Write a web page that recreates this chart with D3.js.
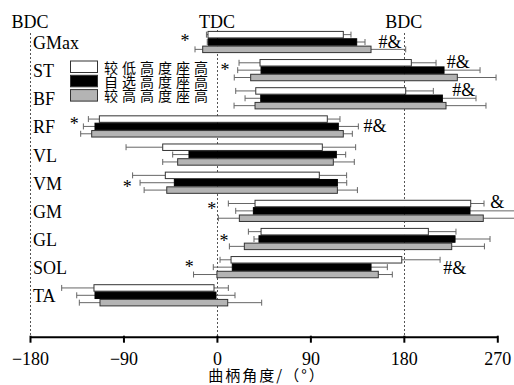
<!DOCTYPE html>
<html><head><meta charset="utf-8">
<script src="https://cdn.jsdelivr.net/npm/d3@7"></script>
<style>
html,body{margin:0;padding:0;background:#fff;overflow:hidden;}
svg{display:block;}
.serif{font-family:"Liberation Serif","Times New Roman","DejaVu Serif",serif;}
.cjk{font-family:"Noto Sans CJK SC","Noto Sans CJK JP",sans-serif;}
</style></head>
<body>
<svg id="chart" width="514" height="385"></svg>
<script>
const muscles = ["GMax","ST","BF","RF","VL","VM","GM","GL","SOL","TA"];
const seriesNames = ["较低高度座高","自选高度座高","较高高度座高"];
const xTicks = [-180,-90,0,90,180,270];

const lowStart    = [-8.6, 41.5, 37.4, -113.2, -52.2, -49.7, 36.7, 42.5, 13.6, -118.4];
const lowStartErr = [1.5, 20.2, 19.3, 10.6, 35.3, 31.5, 25.7, 12.2, 10.6, 31.1];
const lowEnd      = [121.7, 187.2, 181.8, 106.3, 101.5, 98.6, 244.4, 203.6, 178, -2.8];
const lowEndErr   = [7.4, 23.8, 26.6, 12.2, 32.1, 26.3, 12.8, 26.6, 36.9, 13.8];

const selfStart    = [-8.3, 42.5, 42.2, -117.4, -26.9, -41, 35.1, 40.5, 14.8, -117.4];
const selfStartErr = [1, 22.5, 15.1, 11.2, 15.7, 33, 17, 4.8, 18.3, 17.6];
const selfEnd      = [134.6, 218.7, 217.1, 116.9, 115, 116, 243.7, 229.3, 148.4, -0.9];
const selfEndErr   = [8, 34.7, 32.4, 19.3, 9, 9, 45, 33.7, 15.7, 18.3];

const highStart    = [-13.7, 32.5, 36.7, -120.6, -37.8, -48.3, 21.6, 26.4, 0, -112.6];
const highStartErr = [7.4, 15.8, 20.2, 10.6, 14.4, 21.8, 20.2, 14.4, 22.5, 19.9];
const highEnd      = [148.4, 231.5, 220.6, 121.7, 112.1, 116, 256.5, 226.1, 155.4, 10.4];
const highEndErr   = [33.4, 37.3, 38.5, 8.7, 20.2, 19.3, 33, 31.5, 13.5, 32.7];

// significance marks: muscle, symbol, angle anchor (deg), vertical offset within group (px)
const sigMuscle = ["GMax","GMax","ST","ST","BF","RF","RF","VM","GM","GM","GL","SOL","SOL"];
const sigText   = ["*","#&","*","#&","#&","*","#&","*","*","&","*","*","#&"];
const sigAngle  = [-30.7,166.7,7.8,232.5,237.7,-137.3,152.3,-86.3,-5,270,6.8,-26.6,229];
const sigDy     = [-4,-0.3,-3.6,-8.6,-8.5,-5,0,1,-4.8,-8.8,-1.4,-3,1.3];

const refAngles = [-180, 0, 180];
const refLabels = ["BDC","TDC","BDC"];

const series = [
  {name: seriesNames[0], start: lowStart, sErr: lowStartErr, end: lowEnd, eErr: lowEndErr, fill:"#ffffff", stroke:"#333"},
  {name: seriesNames[1], start: selfStart, sErr: selfStartErr, end: selfEnd, eErr: selfEndErr, fill:"#000000", stroke:"#000"},
  {name: seriesNames[2], start: highStart, sErr: highStartErr, end: highEnd, eErr: highEndErr, fill:"#b4b4b4", stroke:"#333"}
];

const svg = d3.select("#chart");

const x = d3.scaleLinear().domain([-180,270]).range([30,497.3]);
const y = d3.scalePoint().domain(muscles).range([42,295.3]);
const yi = d3.scaleBand().domain(seriesNames).range([-10.6,10.6]).paddingInner(0.12);
const axisY = 336.7;

// reference dashed lines
svg.append("g").selectAll("line").data(refAngles).join("line")
  .attr("x1", d=>Math.round(x(d))+0.5).attr("x2", d=>Math.round(x(d))+0.5)
  .attr("y1", (d,i)=> i===1 ? 30 : 33).attr("y2", axisY)
  .attr("stroke","#555").attr("stroke-width",1).attr("stroke-dasharray","2,2");

svg.append("g").selectAll("text").data(refAngles).join("text")
  .attr("class","serif")
  .attr("x", d=>x(d)).attr("y", 28)
  .attr("text-anchor","middle")
  .style("font-size","18px").attr("fill","#000")
  .text((d,i)=>refLabels[i]);

// muscle labels
svg.append("g").selectAll("text").data(muscles).join("text")
  .attr("class","serif")
  .attr("x", 33).attr("y", d=>y(d)+7)
  .style("font-size","18px").attr("fill","#000")
  .text(d=>d);

// bars + error bars
const capH = 6;
series.forEach(s => {
  const g = svg.append("g");
  const rows = muscles.map((m,i)=>({m, st:s.start[i], se:s.sErr[i], en:s.end[i], ee:s.eErr[i]}));
  const cy = d => y(d.m) + yi(s.name) + yi.bandwidth()/2;
  g.selectAll("line.wl").data(rows).join("line").attr("class","wl")
    .attr("x1", d=>x(d.st - d.se)).attr("x2", d=>x(d.st))
    .attr("y1", cy).attr("y2", cy).attr("stroke","#666").attr("stroke-width",1);
  g.selectAll("line.cl").data(rows).join("line").attr("class","cl")
    .attr("x1", d=>x(d.st - d.se)).attr("x2", d=>x(d.st - d.se))
    .attr("y1", d=>cy(d)-capH/2).attr("y2", d=>cy(d)+capH/2).attr("stroke","#666").attr("stroke-width",1);
  g.selectAll("line.wr").data(rows).join("line").attr("class","wr")
    .attr("x1", d=>x(d.en)).attr("x2", d=>x(d.en + d.ee))
    .attr("y1", cy).attr("y2", cy).attr("stroke","#666").attr("stroke-width",1);
  g.selectAll("line.cr").data(rows).join("line").attr("class","cr")
    .attr("x1", d=>x(d.en + d.ee)).attr("x2", d=>x(d.en + d.ee))
    .attr("y1", d=>cy(d)-capH/2).attr("y2", d=>cy(d)+capH/2).attr("stroke","#666").attr("stroke-width",1);
  g.selectAll("rect").data(rows).join("rect")
    .attr("x", d=>x(d.st)).attr("width", d=>x(d.en)-x(d.st))
    .attr("y", d=>y(d.m)+yi(s.name)).attr("height", yi.bandwidth())
    .attr("fill", s.fill).attr("stroke", s.stroke).attr("stroke-width",1);
});

// significance marks
svg.append("g").selectAll("text").data(sigText).join("text")
  .attr("class","serif")
  .attr("x", (d,i)=>x(sigAngle[i]))
  .attr("y", (d,i)=>y(sigMuscle[i]) + sigDy[i] + (d==="*" ? 9 : 6))
  .attr("text-anchor","middle")
  .style("font-size","18px").attr("fill","#000")
  .text(d=>d);

// legend
const lg = svg.append("g");
series.forEach((s,i)=>{
  lg.append("rect").attr("x",70.5).attr("y",61+i*14.3).attr("width",27).attr("height",11.5)
    .attr("fill", s.fill).attr("stroke","#333").attr("stroke-width",1);
  lg.append("text").attr("class","cjk").attr("x",104).attr("y",72.5+i*14.3)
    .style("font-size","14px").style("letter-spacing","4px").attr("fill","#000")
    .text(s.name);
});

// x axis
const ax = svg.append("g").attr("transform",`translate(0,${axisY})`)
  .call(d3.axisBottom(x).tickValues(xTicks).tickSize(6).tickSizeOuter(0).tickPadding(10));
ax.select(".domain").attr("stroke","#000").attr("stroke-width",2);
ax.selectAll(".tick line").attr("stroke","#000").attr("stroke-width",2).attr("y1",-1);
ax.selectAll(".tick text").attr("class","serif").style("font-size","18px").attr("fill","#000");
ax.attr("font-family",null);

svg.append("text").attr("class","cjk").attr("x",267).attr("y",381).attr("text-anchor","middle")
  .style("font-size","15px").style("letter-spacing","2px").attr("fill","#000")
  .text("曲柄角度/（°）");
</script>
</body></html>
